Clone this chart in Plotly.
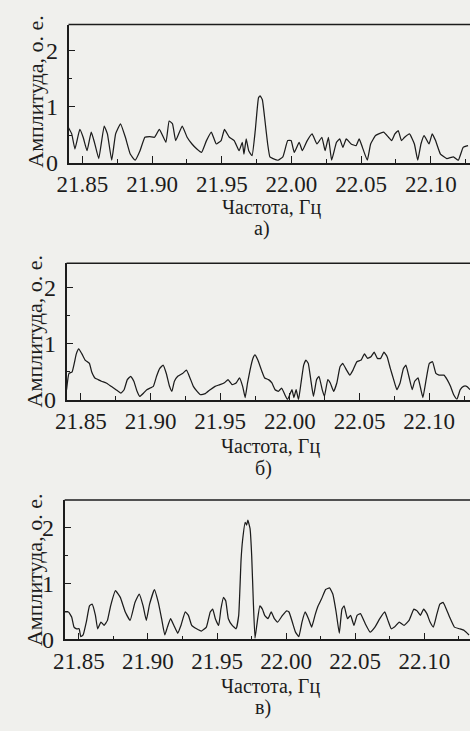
import plotly.graph_objects as go

# ---------- data ----------
freq_a = [21.8400, 21.8423, 21.8446, 21.8481, 21.8505, 21.8533, 21.8563, 21.8586, 21.8617, 21.8656,
          21.8679, 21.8710, 21.8738, 21.8773, 21.8808, 21.8843, 21.8878, 21.8913, 21.8948, 21.8983,
          21.9017, 21.9052, 21.9099, 21.9122, 21.9146, 21.9169, 21.9216, 21.9251, 21.9286, 21.9321,
          21.9355, 21.9390, 21.9425, 21.9460, 21.9495, 21.9519, 21.9554, 21.9589, 21.9624, 21.9647,
          21.9659, 21.9675, 21.9693, 21.9717, 21.9740, 21.9763, 21.9775, 21.9791, 21.9810, 21.9829,
          21.9845, 21.9868, 21.9903, 21.9938, 21.9973, 21.9997, 22.0020, 22.0055, 22.0078, 22.0113,
          22.0148, 22.0183, 22.0218, 22.0241, 22.0265, 22.0288, 22.0323, 22.0346, 22.0369, 22.0393,
          22.0428, 22.0463, 22.0486, 22.0509, 22.0544, 22.0568, 22.0603, 22.0626, 22.0661, 22.0696,
          22.0719, 22.0742, 22.0766, 22.0789, 22.0812, 22.0847, 22.0882, 22.0906, 22.0929, 22.0952,
          22.0987, 22.1010, 22.1034, 22.1069, 22.1115, 22.1162, 22.1197, 22.1232, 22.1267]
amp_a = [0.63, 0.52, 0.25, 0.60, 0.46, 0.22, 0.55, 0.37, 0.08, 0.66,
         0.52, 0.05, 0.52, 0.70, 0.46, 0.16, 0.05, 0.22, 0.46, 0.47,
         0.46, 0.60, 0.37, 0.75, 0.70, 0.40, 0.66, 0.46, 0.34, 0.25,
         0.19, 0.40, 0.55, 0.34, 0.40, 0.60, 0.46, 0.40, 0.22, 0.37,
         0.16, 0.43, 0.22, 0.13, 0.58, 1.16, 1.20, 1.13, 0.75, 0.34,
         0.11, 0.08, 0.05, 0.11, 0.40, 0.40, 0.19, 0.37, 0.22, 0.40,
         0.52, 0.34, 0.46, 0.22, 0.46, 0.05, 0.37, 0.43, 0.28, 0.43,
         0.34, 0.31, 0.43, 0.28, 0.05, 0.34, 0.49, 0.52, 0.55, 0.46,
         0.40, 0.52, 0.58, 0.40, 0.46, 0.52, 0.34, 0.05, 0.34, 0.49,
         0.34, 0.52, 0.40, 0.16, 0.08, 0.11, 0.05, 0.28, 0.31]

freq_b = [21.8397, 21.8414, 21.8437, 21.8467, 21.8484, 21.8507, 21.8530, 21.8561, 21.8577, 21.8600,
          21.8624, 21.8647, 21.8682, 21.8717, 21.8752, 21.8787, 21.8810, 21.8833, 21.8857, 21.8880,
          21.8903, 21.8922, 21.8950, 21.8973, 21.8997, 21.9020, 21.9043, 21.9066, 21.9090, 21.9113,
          21.9136, 21.9153, 21.9171, 21.9195, 21.9230, 21.9258, 21.9283, 21.9307, 21.9334, 21.9358,
          21.9393, 21.9428, 21.9463, 21.9498, 21.9533, 21.9556, 21.9586, 21.9614, 21.9638, 21.9661,
          21.9679, 21.9696, 21.9714, 21.9735, 21.9749, 21.9770, 21.9796, 21.9819, 21.9847, 21.9871,
          21.9894, 21.9917, 21.9941, 21.9964, 21.9983, 21.9999, 22.0015, 22.0029, 22.0045, 22.0062,
          22.0080, 22.0099, 22.0115, 22.0132, 22.0150, 22.0169, 22.0192, 22.0209, 22.0232, 22.0248,
          22.0272, 22.0290, 22.0314, 22.0337, 22.0360, 22.0379, 22.0407, 22.0430, 22.0453, 22.0481,
          22.0512, 22.0535, 22.0558, 22.0582, 22.0605, 22.0628, 22.0652, 22.0675, 22.0698, 22.0721,
          22.0745, 22.0768, 22.0791, 22.0815, 22.0833, 22.0854, 22.0878, 22.0896, 22.0920, 22.0938,
          22.0955, 22.0978, 22.1001, 22.1024, 22.1048, 22.1071, 22.1106, 22.1129, 22.1153, 22.1176,
          22.1199, 22.1223, 22.1246, 22.1269, 22.1293]
amp_b = [0.18, 0.47, 0.50, 0.82, 0.91, 0.82, 0.71, 0.65, 0.50, 0.39,
         0.36, 0.33, 0.30, 0.24, 0.18, 0.12, 0.18, 0.36, 0.42, 0.33,
         0.15, 0.06, 0.12, 0.18, 0.21, 0.24, 0.42, 0.56, 0.62, 0.47,
         0.24, 0.15, 0.33, 0.42, 0.47, 0.53, 0.39, 0.24, 0.15, 0.09,
         0.11, 0.18, 0.24, 0.27, 0.31, 0.36, 0.27, 0.30, 0.39, 0.24,
         0.04, 0.30, 0.53, 0.74, 0.80, 0.71, 0.53, 0.39, 0.36, 0.30,
         0.18, 0.15, 0.21, 0.09, 0.00, 0.09, 0.18, 0.04, 0.18, 0.00,
         0.30, 0.62, 0.71, 0.65, 0.36, 0.06, 0.36, 0.42, 0.18, 0.06,
         0.36, 0.30, 0.15, 0.30, 0.59, 0.65, 0.53, 0.44, 0.53, 0.68,
         0.71, 0.82, 0.74, 0.77, 0.85, 0.74, 0.74, 0.85, 0.77, 0.56,
         0.36, 0.18, 0.30, 0.56, 0.62, 0.42, 0.18, 0.33, 0.39, 0.21,
         0.04, 0.36, 0.65, 0.68, 0.47, 0.44, 0.44, 0.36, 0.24, 0.09,
         0.01, 0.18, 0.24, 0.24, 0.18]

freq_c = [21.8397, 21.8425, 21.8448, 21.8465, 21.8484, 21.8502, 21.8514, 21.8531, 21.8554, 21.8577,
          21.8596, 21.8620, 21.8636, 21.8660, 21.8683, 21.8707, 21.8730, 21.8765, 21.8800, 21.8836,
          21.8871, 21.8906, 21.8937, 21.8965, 21.8988, 21.9012, 21.9047, 21.9075, 21.9099, 21.9122,
          21.9141, 21.9164, 21.9188, 21.9216, 21.9239, 21.9270, 21.9293, 21.9317, 21.9352, 21.9387,
          21.9423, 21.9451, 21.9469, 21.9488, 21.9512, 21.9528, 21.9547, 21.9563, 21.9582, 21.9610,
          21.9638, 21.9657, 21.9674, 21.9685, 21.9704, 21.9714, 21.9723, 21.9739, 21.9751, 21.9763,
          21.9775, 21.9791, 21.9810, 21.9829, 21.9845, 21.9869, 21.9892, 21.9915, 21.9939, 21.9974,
          22.0005, 22.0021, 22.0045, 22.0068, 22.0092, 22.0115, 22.0138, 22.0162, 22.0185, 22.0209,
          22.0232, 22.0256, 22.0286, 22.0315, 22.0338, 22.0362, 22.0385, 22.0404, 22.0420, 22.0444,
          22.0467, 22.0491, 22.0514, 22.0538, 22.0573, 22.0608, 22.0643, 22.0678, 22.0714, 22.0737,
          22.0761, 22.0784, 22.0819, 22.0854, 22.0890, 22.0925, 22.0948, 22.0972, 22.0995, 22.1019,
          22.1042, 22.1066, 22.1089, 22.1113, 22.1136, 22.1160, 22.1183, 22.1218, 22.1254, 22.1289,
          22.1324]
amp_c = [0.49, 0.49, 0.40, 0.22, 0.19, 0.19, 0.05, 0.08, 0.31, 0.60,
         0.63, 0.43, 0.19, 0.31, 0.25, 0.34, 0.60, 0.87, 0.75, 0.49,
         0.34, 0.66, 0.81, 0.60, 0.34, 0.63, 0.89, 0.66, 0.37, 0.08,
         0.22, 0.37, 0.25, 0.11, 0.25, 0.49, 0.43, 0.25, 0.19, 0.15,
         0.22, 0.49, 0.54, 0.37, 0.25, 0.54, 0.75, 0.69, 0.37, 0.25,
         0.19, 0.43, 1.42, 1.77, 2.09, 2.04, 2.13, 1.98, 1.49, 0.66,
         0.02, 0.31, 0.60, 0.54, 0.43, 0.37, 0.49, 0.37, 0.31, 0.43,
         0.51, 0.49, 0.31, 0.13, 0.05, 0.31, 0.49, 0.37, 0.22, 0.43,
         0.60, 0.72, 0.89, 0.92, 0.81, 0.49, 0.11, 0.54, 0.60, 0.37,
         0.43, 0.25, 0.43, 0.46, 0.28, 0.13, 0.22, 0.37, 0.49, 0.34,
         0.19, 0.22, 0.31, 0.25, 0.34, 0.54, 0.51, 0.43, 0.54, 0.46,
         0.31, 0.22, 0.43, 0.63, 0.66, 0.54, 0.40, 0.22, 0.19, 0.16,
         0.08]

x_tickvals = [21.85, 21.90, 21.95, 22.00, 22.05, 22.10]
x_ticktext = ["21.85", "21.90", "21.95", "22.00", "22.05", "22.10"]
x_minorvals = [21.875, 21.925, 21.975, 22.025, 22.075, 22.125]
y_tickvals = [0, 1, 2]
y_ticktext = ["0", "1", "2"]
y_minorvals = [0.5, 1.5]
x_title = "Частота, Гц"
y_title = "Амплитуда, о. е."
panel_labels = ["а)", "б)", "в)"]

# ---------- layout helpers ----------
W, H = 470, 731
FONT = "Liberation Serif"
INK = "#1c1c1c"
BG = "#f0f0ed"

def px_x(p):
    return p / W

def px_y(p):
    return 1 - p / H

panels = [
    dict(left=58, top=25, bottom=166, xr=[21.8400, 22.1281], ytop=2.47,
         xt=(266, 211), lab=(257, 233), yt=(24, 93), f=freq_a, a=amp_a),
    dict(left=56, top=268, bottom=407, xr=[21.8397, 22.1293], ytop=2.44,
         xt=(265, 455), lab=(258, 477), yt=(23, 337), f=freq_b, a=amp_b),
    dict(left=54, top=509, bottom=651, xr=[21.8397, 22.1331], ytop=2.49,
         xt=(265, 699), lab=(258, 720), yt=(23, 580), f=freq_c, a=amp_c),
]

fig = go.Figure()
layout = dict(
    width=W, height=H, margin=dict(l=0, r=0, t=0, b=0),
    paper_bgcolor=BG, plot_bgcolor=BG, showlegend=False,
    font=dict(family=FONT, color=INK, size=23),
    annotations=[], shapes=[],
)

for i, p in enumerate(panels):
    n = "" if i == 0 else str(i + 1)
    xa, ya = "x" + n, "y" + n
    fig.add_trace(go.Scatter(x=p["f"], y=p["a"], mode="lines",
                             line=dict(color=INK, width=1.25, shape="spline", smoothing=0.35),
                             xaxis=xa, yaxis=ya, hoverinfo="skip"))
    layout["xaxis" + n] = dict(
        domain=[px_x(p["left"]), 1], range=p["xr"], anchor=ya,
        showgrid=False, zeroline=False, showline=True, linecolor=INK, linewidth=1.6,
        ticks="inside", ticklen=7, tickwidth=1.4, tickcolor=INK,
        tickmode="array", tickvals=x_tickvals, ticktext=x_ticktext,
        tickfont=dict(family=FONT, size=23, color=INK), ticklabelstandoff=0,
        minor=dict(ticks="inside", ticklen=4, tickwidth=1.2, tickcolor=INK,
                   tickmode="array", tickvals=x_minorvals, showgrid=False),
    )
    layout["yaxis" + n] = dict(
        domain=[px_y(p["bottom"]), px_y(p["top"])], range=[0, p["ytop"]], anchor=xa,
        showgrid=False, zeroline=False, showline=True, linecolor=INK, linewidth=1.6,
        ticks="inside", ticklen=7, tickwidth=1.4, tickcolor=INK,
        tickmode="array", tickvals=y_tickvals, ticktext=y_ticktext,
        tickfont=dict(family=FONT, size=24, color=INK), ticklabelstandoff=4,
        minor=dict(ticks="inside", ticklen=4, tickwidth=1.2, tickcolor=INK,
                   tickmode="array", tickvals=y_minorvals, showgrid=False),
    )
    layout["shapes"].append(dict(type="line", xref=xa + " domain", yref=ya + " domain",
                                 x0=0, x1=1, y0=1, y1=1,
                                 line=dict(color=INK, width=1.6)))
    layout["annotations"].append(dict(
        text=x_title, xref="paper", yref="paper", x=px_x(p["xt"][0]), y=px_y(p["xt"][1]),
        xanchor="center", yanchor="middle", showarrow=False, borderpad=0,
        font=dict(family=FONT, size=20, color=INK)))
    layout["annotations"].append(dict(
        text=panel_labels[i], xref="paper", yref="paper", x=px_x(p["lab"][0]), y=px_y(p["lab"][1]),
        xanchor="center", yanchor="middle", showarrow=False, borderpad=0,
        font=dict(family=FONT, size=20, color=INK)))
    layout["annotations"].append(dict(
        text=y_title, xref="paper", yref="paper", x=px_x(p["yt"][0]), y=px_y(p["yt"][1]),
        xanchor="center", yanchor="middle", showarrow=False, textangle=-90, borderpad=0,
        font=dict(family=FONT, size=22, color=INK)))

fig.update_layout(**layout)
fig.write_html("out.html")
